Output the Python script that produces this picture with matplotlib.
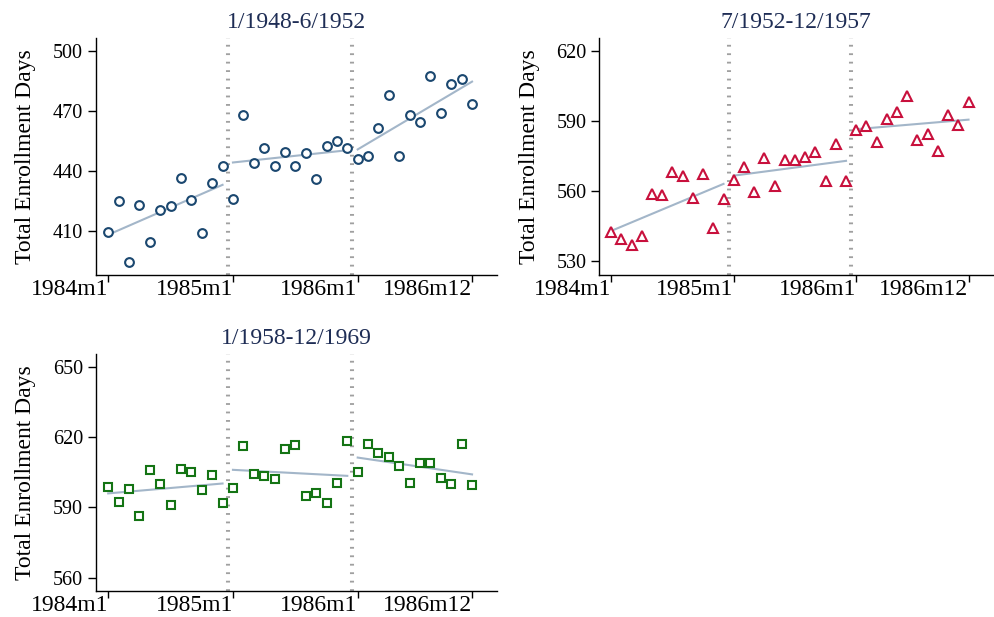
import numpy as np
import matplotlib
matplotlib.use("Agg")
import matplotlib.pyplot as plt

plt.rcParams['font.family'] = ['Liberation Serif', 'DejaVu Serif']

# months since 1984m1
months = np.arange(36)
xtick_pos = [0, 12, 24, 35]
xtick_labels = ['1984m1', '1985m1', '1986m1', '1986m12']
breaks = [11.5, 23.5]

# panel 1: 1/1948-6/1952
enroll_1 = [409.7, 425.0, 394.7, 422.8, 404.7, 420.3, 422.7, 436.7, 425.7, 408.8, 433.8, 442.3,
            426.0, 467.8, 444.0, 451.7, 442.7, 449.5, 442.3, 448.8, 435.8, 452.3, 455.2, 451.7,
            445.8, 447.3, 461.7, 477.8, 447.7, 467.8, 464.7, 487.7, 469.2, 483.5, 486.2, 473.5]
# panel 2: 7/1952-12/1957
enroll_2 = [542.3, 539.4, 536.9, 540.7, 558.7, 558.3, 568.3, 566.6, 557.0, 567.1, 544.1, 556.4,
            564.9, 570.1, 559.6, 574.3, 562.0, 573.3, 573.1, 574.7, 576.6, 564.3, 580.0, 564.3,
            586.0, 587.7, 581.0, 590.9, 594.0, 600.6, 581.7, 584.4, 577.1, 592.6, 588.4, 598.3]
# panel 3: 1/1958-12/1969
enroll_3 = [598.9, 592.3, 598.0, 586.4, 605.8, 600.1, 591.2, 606.5, 605.0, 597.4, 603.8, 592.0,
            598.2, 616.3, 604.4, 603.4, 602.1, 614.8, 616.5, 594.7, 596.3, 591.9, 600.4, 618.2,
            605.3, 617.0, 613.1, 611.6, 607.8, 600.3, 608.8, 609.1, 602.7, 600.0, 616.9, 599.7]

titles = ['1/1948-6/1952', '7/1952-12/1957', '1/1958-12/1969']
yticks = [[410, 440, 470, 500], [530, 560, 590, 620], [560, 590, 620, 650]]
ylims = [(388, 506.5), (524, 625.6), (554.4, 655.4)]
markers = ['o', '^', 's']
colors = ['#1a476f', '#c8103c', '#147414']
msizes = [6.3, 7.0, 5.8]
series = [enroll_1, enroll_2, enroll_3]

fit_color = '#a3b6c9'
title_color = '#1e2d55'

fig = plt.figure(figsize=(9.94, 6.17), dpi=100)
positions = [
    [0.0963, 0.5543, 0.4037, 0.3841],
    [0.6026, 0.5543, 0.3964, 0.3841],
    [0.0963, 0.0421, 0.4037, 0.3841],
]

for i in range(3):
    ax = fig.add_axes(positions[i])
    y = np.array(series[i])

    # break lines between the years
    for b in breaks:
        ax.axvline(b, color='#a0a0a0', lw=2.9, linestyle=(0, (0.45, 1.65)), zorder=1)

    # linear fit for each year segment
    for s in range(3):
        xs = months[s * 12:(s + 1) * 12]
        ys = y[s * 12:(s + 1) * 12]
        slope, icpt = np.polyfit(xs, ys, 1)
        ax.plot(xs[[0, -1]], icpt + slope * xs[[0, -1]], color=fit_color, lw=1.5, zorder=2)

    ax.plot(months, y, linestyle='none', marker=markers[i], markersize=msizes[i],
            markerfacecolor='white', markeredgecolor=colors[i], markeredgewidth=1.5, zorder=3)

    ax.set_xlim(-1.2, 37.4)
    ax.set_ylim(*ylims[i])
    ax.set_xticks(xtick_pos)
    ax.set_xticklabels(xtick_labels, fontsize=17)
    for lab in ax.get_xticklabels():
        lab.set_ha('right')
    ax.set_yticks(yticks[i])
    ax.set_yticklabels([str(v) for v in yticks[i]], fontsize=14.5)
    ax.tick_params(axis='x', length=5, width=1, pad=-2, direction='out')
    ax.tick_params(axis='y', length=5.5, width=1, pad=3.5, direction='out')

    for side in ['top', 'right']:
        ax.spines[side].set_visible(False)
    for side in ['left', 'bottom']:
        ax.spines[side].set_linewidth(1.0)
        ax.spines[side].set_color('black')

    ax.set_ylabel('Total Enrollment Days', fontsize=17, labelpad=12)
    ax.set_title(titles[i], fontsize=17, color=title_color, pad=7)

fig.savefig('out.png', dpi=100)
